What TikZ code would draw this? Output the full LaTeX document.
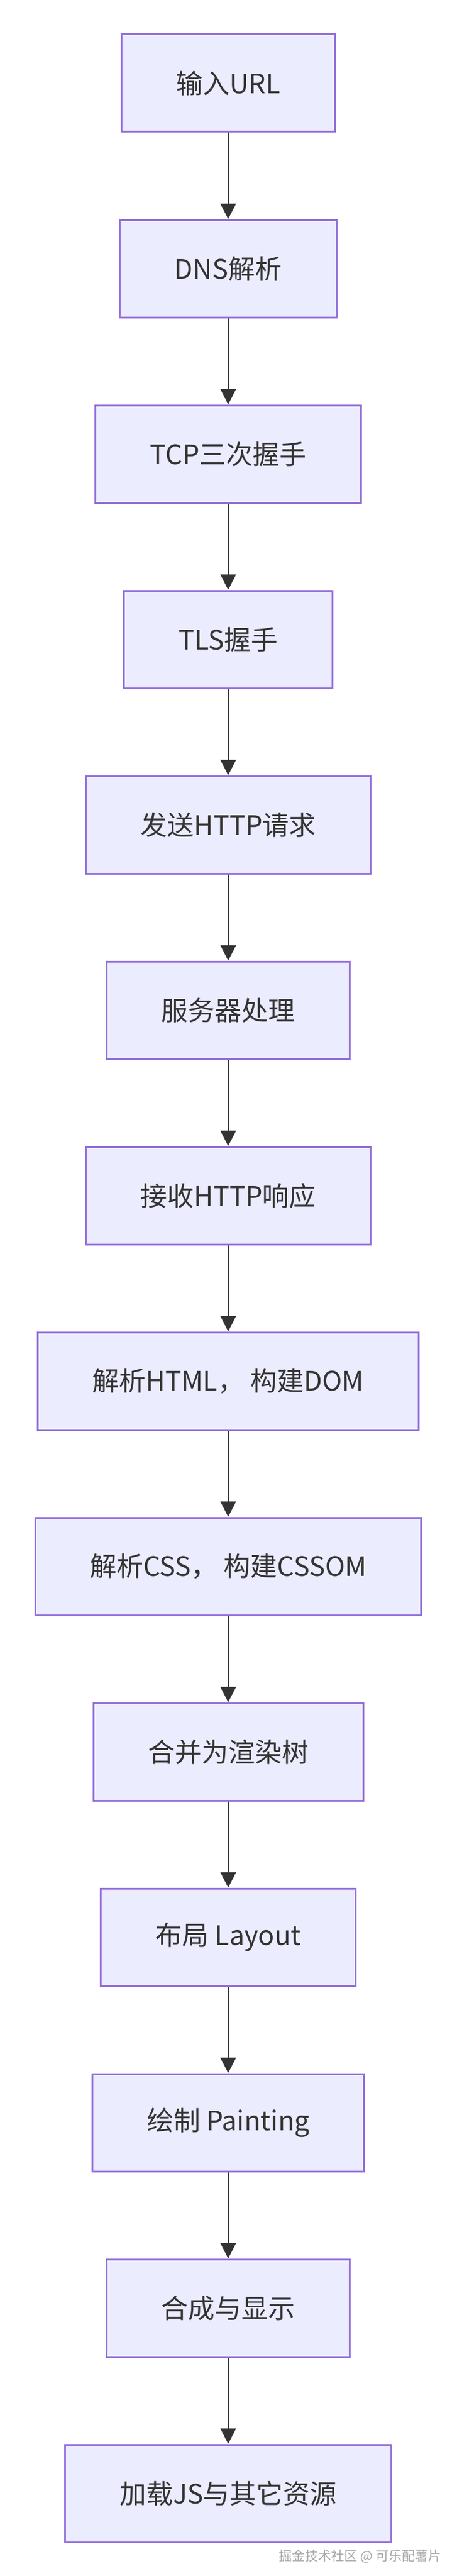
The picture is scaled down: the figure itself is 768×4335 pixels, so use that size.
\documentclass[tikz,border=0pt]{standalone}
\usepackage{fontspec}
\setmainfont{Noto Sans CJK SC}
\usepackage{xcolor}
\usetikzlibrary{positioning,arrows.meta}
\definecolor{boxfill}{HTML}{ECECFF}
\definecolor{boxline}{HTML}{9370DB}
\definecolor{ink}{HTML}{333333}
\tikzset{
  stage/.style={draw=boxline, line width=3pt, fill=boxfill, text=ink, minimum height=164pt, inner xsep=92pt, font=\fontsize{45}{54}\selectfont},
  flow/.style={-{Triangle[length=26pt,width=26pt]}, line width=3pt, draw=ink}
}
\begin{document}
\begin{tikzpicture}[x=1pt, y=1pt, node distance=145pt]
    \useasboundingbox (0,0) rectangle (768,-4335);
    % Steps
    \node[stage] (s1) at (384,-140) {输入URL};
    \node[stage, below=of s1] (s2) {DNS解析};
    \node[stage, below=of s2] (s3) {TCP三次握手};
    \node[stage, below=of s3] (s4) {TLS握手};
    \node[stage, below=of s4] (s5) {发送HTTP请求};
    \node[stage, below=of s5] (s6) {服务器处理};
    \node[stage, below=of s6] (s7) {接收HTTP响应};
    \node[stage, below=of s7] (s8) {解析HTML， 构建DOM};
    \node[stage, below=of s8] (s9) {解析CSS， 构建CSSOM};
    \node[stage, below=of s9] (s10) {合并为渲染树};
    \node[stage, below=of s10] (s11) {布局 Layout};
    \node[stage, below=of s11] (s12) {绘制 Painting};
    \node[stage, below=of s12] (s13) {合成与显示};
    \node[stage, below=of s13] (s14) {加载JS与其它资源};

    % Arrows
    \foreach \a/\b in {s1/s2,s2/s3,s3/s4,s4/s5,s5/s6,s6/s7,s7/s8,s8/s9,s9/s10,s10/s11,s11/s12,s12/s13,s13/s14}{
        \draw[flow] (\a.south) -- (\b.north);
    }

    % Watermark
    \node[anchor=east, text=gray!70, font=\fontsize{22}{26}\selectfont] (mark) at (746,-4302) {掘金技术社区 @ 可乐配薯片};
\end{tikzpicture}
\end{document}
